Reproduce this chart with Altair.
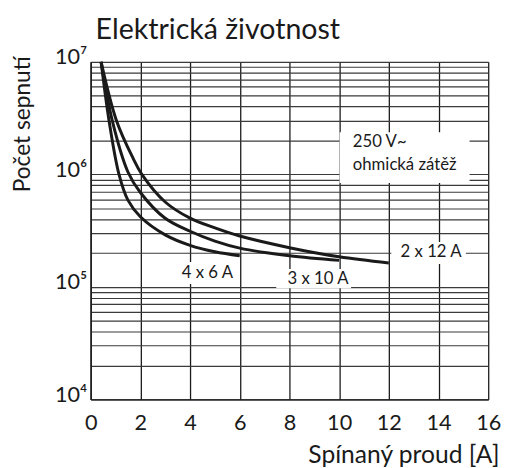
import altair as alt
import pandas as pd

FONT = "Lato"

title_text = "Elektrická životnost"
x_title = "Spínaný proud [A]"
y_title = "Počet sepnutí"

# curve data
x_4x6 = [0.42, 0.74, 1.14, 1.5, 2, 3, 4, 5, 6]
y_4x6 = [1e7, 3.0e6, 1.0e6, 5.9e5, 4.2e5, 2.9e5, 2.34e5, 2.05e5, 1.89e5]
x_3x10 = [0.42, 0.87, 1.5, 2, 3, 4, 5, 6, 8, 10]
y_3x10 = [1e7, 3.0e6, 1.05e6, 6.9e5, 4.07e5, 3.12e5, 2.55e5, 2.21e5, 1.89e5, 1.72e5]
x_2x12 = [0.42, 1.04, 1.7, 2.06, 3, 4, 5, 6, 8, 10, 12]
y_2x12 = [1e7, 3.0e6, 1.4e6, 1.0e6, 5.68e5, 4.08e5, 3.34e5, 2.83e5, 2.23e5, 1.85e5, 1.63e5]
series_names = ["4 x 6 A", "3 x 10 A", "2 x 12 A"]

# axes
x_ticks = [0, 2, 4, 6, 8, 10, 12, 14, 16]
y_decades = [10000, 100000, 1000000, 10000000]
y_decade_labels = ["10⁴", "10⁵", "10⁶", "10⁷"]
y_minor = [2, 3, 4, 5, 6, 7, 8, 9]

# curve labels (centre positions and background boxes, data units)
label_x = [4.7, 9.15, 13.7]
label_y = [1.33e5, 1.18e5, 2.02e5]
box_x1 = [3.5, 7.47, 12.1]
box_x2 = [5.78, 10.48, 15.1]
box_y1 = [1.06e5, 9.7e4, 1.6e5]
box_y2 = [1.66e5, 1.44e5, 2.5e5]

# note
note_lines = ["250 V~", "ohmická zátěž"]
note_x = [10.55, 10.55]
note_y = [1.95e6, 1.2e6]
note_box_x1 = [10.02]
note_box_x2 = [15.25]
note_box_y1 = [8.4e5]
note_box_y2 = [2.37e6]

y_grid = []
for d in y_decades[:-1]:
    y_grid.append(d)
    y_grid += [m * d for m in y_minor]
y_grid.append(y_decades[-1])

label_expr = "''"
for v, l in reversed(list(zip(y_decades, y_decade_labels))):
    label_expr = f"datum.value == {v} ? '{l}' : ({label_expr})"

rows = []
for name, xs, ys in zip(series_names, [x_4x6, x_3x10, x_2x12], [y_4x6, y_3x10, y_2x12]):
    for a, b in zip(xs, ys):
        rows.append({"series": name, "x": a, "y": b})
curves = pd.DataFrame(rows)

boxes_df = pd.DataFrame({
    "x": box_x1 + note_box_x1, "x2": box_x2 + note_box_x2,
    "y": box_y1 + note_box_y1, "y2": box_y2 + note_box_y2,
})
labels_df = pd.DataFrame({"x": label_x, "y": label_y, "t": series_names})
note_df = pd.DataFrame({"x": note_x, "y": note_y, "t": note_lines})
title_df = pd.DataFrame({"t": [title_text]})

xscale = alt.Scale(domain=[0, 16], nice=False, zero=False)
yscale = alt.Scale(type="log", domain=[1e4, 1e7], nice=False)

x_axis = alt.Axis(
    values=x_ticks, grid=True, gridColor="#1a1a1a", gridWidth=1.3,
    domainColor="#1a1a1a", domainWidth=1.5, ticks=False,
    labelFont=FONT, labelFontSize=22, labelColor="#1a1a1a", labelPadding=14,
    labelFlush=False, labelOverlap=False,
    title=x_title, titleFont=FONT, titleFontSize=25, titleFontWeight="normal",
    titleColor="#1a1a1a", titleAnchor="end", titleAlign="right",
    titleBaseline="alphabetic", titleX=415, titleY=64,
)
y_axis = alt.Axis(
    values=y_grid, grid=True, gridColor="#3a3a3a", gridWidth=1.2,
    domainColor="#1a1a1a", domainWidth=1.5, ticks=False,
    labelExpr=label_expr, labelFont=FONT, labelFontSize=22, labelColor="#1a1a1a",
    labelPadding=4, labelOverlap=False, labelBaseline="alphabetic", labelOffset=2,
    title=y_title, titleFont=FONT, titleFontSize=23, titleFontWeight="normal",
    titleColor="#1a1a1a", titleAngle=270, titleAnchor="end", titleAlign="right",
    titleBaseline="middle", titleX=-69, titleY=-6,
)

boxes = alt.Chart(boxes_df).mark_rect(color="white").encode(
    x=alt.X("x:Q", scale=xscale, axis=x_axis),
    x2="x2:Q",
    y=alt.Y("y:Q", scale=yscale, axis=y_axis),
    y2="y2:Q",
)

lines = alt.Chart(curves).mark_line(
    color="#1a1a1a", strokeWidth=3, interpolate="catmull-rom"
).encode(
    x=alt.X("x:Q", scale=xscale, axis=x_axis),
    y=alt.Y("y:Q", scale=yscale, axis=y_axis),
    detail="series:N",
    order="x:Q",
)

labels = alt.Chart(labels_df).mark_text(
    font=FONT, fontSize=17, color="#1a1a1a", align="center", baseline="middle"
).encode(
    x=alt.X("x:Q", scale=xscale, axis=x_axis),
    y=alt.Y("y:Q", scale=yscale, axis=y_axis),
    text="t:N",
)

note = alt.Chart(note_df).mark_text(
    font=FONT, fontSize=17, color="#1a1a1a", align="left", baseline="middle"
).encode(
    x=alt.X("x:Q", scale=xscale, axis=x_axis),
    y=alt.Y("y:Q", scale=yscale, axis=y_axis),
    text="t:N",
)

title = alt.Chart(title_df).mark_text(
    font=FONT, fontSize=29, color="#1a1a1a", align="left", baseline="alphabetic"
).encode(
    x=alt.value(5),
    y=alt.value(-23),
    text="t:N",
)

chart = alt.layer(boxes, lines, labels, note, title).properties(
    width=404,
    height=343,
    padding={"left": 84, "top": 51, "right": 14, "bottom": 66},
    autosize=alt.AutoSizeParams(type="none"),
).configure_view(stroke=None)

chart.save("out.html", embed_options={"renderer": "svg", "actions": False})
